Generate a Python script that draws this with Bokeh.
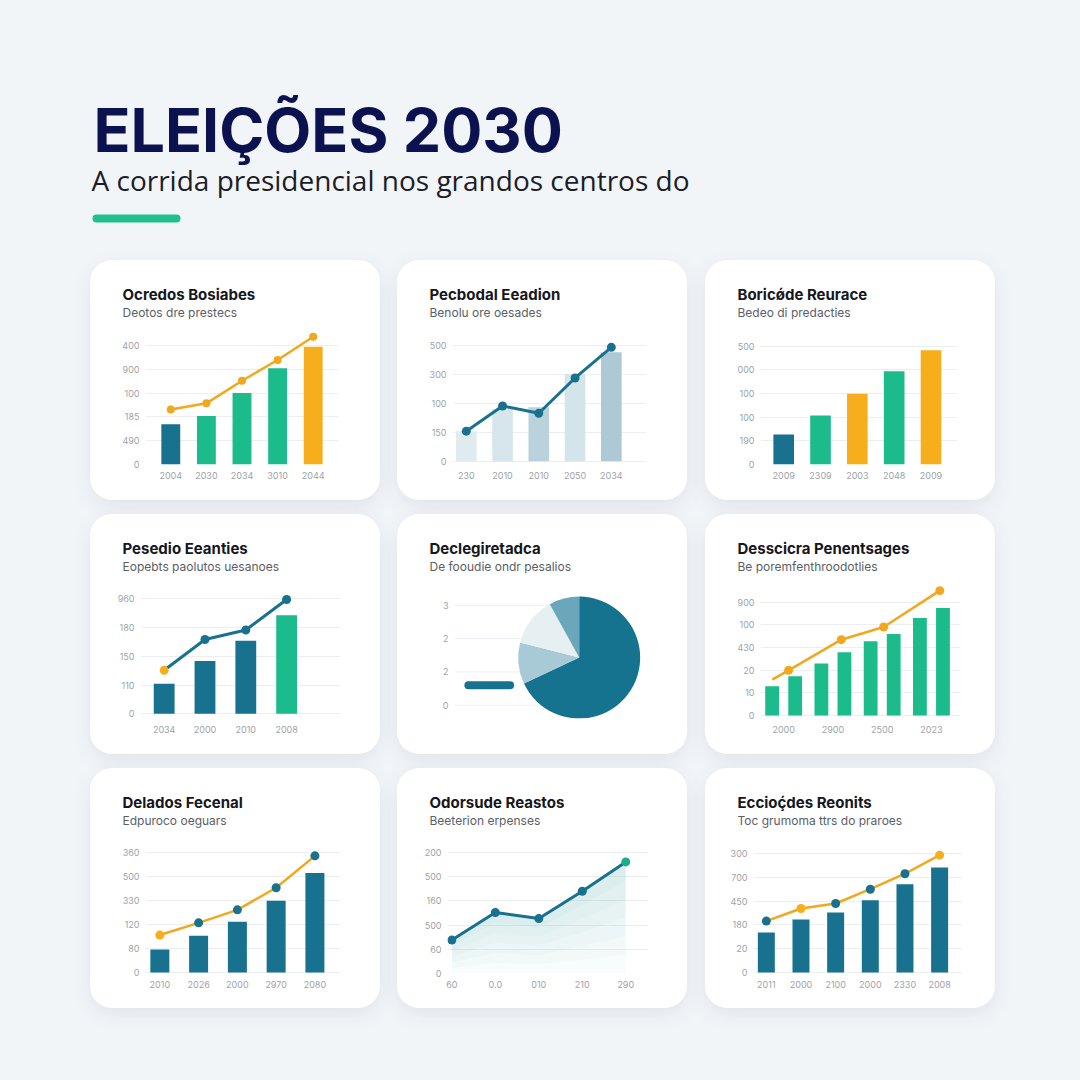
import math
import numpy as np
from bokeh.plotting import figure
from bokeh.layouts import column, row
from bokeh.models import Spacer, FixedTicker, Range1d, Title, GlobalInlineStyleSheet
from bokeh.core.properties import value
from bokeh.embed import file_html
from bokeh.resources import INLINE

# ---------------- data ----------------
header_title = "ELEIÇÕES 2030"
header_subtitle = "A corrida presidencial nos grandos centros do"

p1_title = "Ocredos Bosiabes"
p1_subtitle = "Deotos dre prestecs"
p1_years = ["2004", "2030", "2034", "3010", "2044"]
p1_yticks = ["0", "490", "185", "100", "900", "400"]
p1_bars = [1.69, 2.04, 3.00, 4.04, 4.95]
p1_line = [2.31, 2.57, 3.52, 4.39, 5.37]

p2_title = "Pecbodal Eeadion"
p2_subtitle = "Benolu ore oesades"
p2_years = ["230", "2010", "2010", "2050", "2034"]
p2_yticks = ["0", "150", "100", "300", "500"]
p2_bars = [1.04, 1.81, 1.87, 3.02, 3.77]
p2_line = [1.04, 1.91, 1.66, 2.88, 3.94]

p3_title = "Boricǿde Reurace"
p3_subtitle = "Bedeo di predacties"
p3_years = ["2009", "2309", "2003", "2048", "2009"]
p3_yticks = ["0", "190", "100", "100", "000", "500"]
p3_bars = [1.27, 2.07, 2.99, 3.93, 4.82]

p4_title = "Pesedio Eeanties"
p4_subtitle = "Eopebts paolutos uesanoes"
p4_years = ["2034", "2000", "2010", "2008"]
p4_yticks = ["0", "110", "150", "180", "960"]
p4_bars = [1.04, 1.83, 2.54, 3.42]
p4_line = [1.51, 2.58, 2.91, 3.97]

p5_title = "Declegiretadca"
p5_subtitle = "De fooudie ondr pesalios"
p5_yticks = ["0", "2", "2", "3"]
p5_shares = [68, 11, 13, 8]
p5_bar_x = [0.72, 2.88]
p5_bar_y = [0.6, 0.6]

p6_title = "Desscicra Penentsages"
p6_subtitle = "Be poremfenthroodotlies"
p6_years = ["2000", "2900", "2500", "2023"]
p6_yticks = ["0", "10", "20", "430", "100", "900"]
p6_bars_a = [1.29, 2.29, 3.27, 4.30]
p6_bars_b = [1.73, 2.79, 3.59, 4.74]
p6_line_x = [-0.23, 0.10, 1.17, 2.03, 3.17]
p6_line_y = [1.58, 1.99, 3.34, 3.90, 5.50]

p7_title = "Delados Fecenal"
p7_subtitle = "Edpuroco oeguars"
p7_years = ["2010", "2026", "2000", "2970", "2080"]
p7_yticks = ["0", "80", "120", "330", "500", "360"]
p7_bars = [0.96, 1.53, 2.11, 2.99, 4.15]
p7_line = [1.56, 2.07, 2.61, 3.53, 4.86]

p8_title = "Odorsude Reastos"
p8_subtitle = "Beeterion erpenses"
p8_xlabels = ["60", "0.0", "010", "210", "290"]
p8_yticks = ["0", "60", "500", "160", "500", "200"]
p8_line = [1.38, 2.52, 2.27, 3.40, 4.61]

p9_title = "Eccioḉdes Reonits"
p9_subtitle = "Toc grumoma ttrs do praroes"
p9_years = ["2011", "2000", "2100", "2000", "2330", "2008"]
p9_yticks = ["0", "20", "180", "450", "700", "300"]
p9_bars = [1.68, 2.23, 2.52, 3.04, 3.71, 4.41]
p9_line = [2.16, 2.69, 2.90, 3.50, 4.15, 4.93]

# ---------------- styles ----------------
BG = "#f2f5f8"
NAVY = "#0c1150"
TEAL = "#18718e"
GREEN = "#1bbb8c"
ORANGE = "#f6ae1c"
LINE_ORANGE = "#f1a81c"
GRID = "#eceff2"
TICK = "#9ea3a8"
FONT = "Inter"

CARD_W, CARD_H = 290, 240
FRAME_TOP = 68
CARD_STYLE = {"background-color": "#ffffff", "border-radius": "22px",
              "box-shadow": "0 6px 20px rgba(40, 60, 90, 0.09)"}


def make_card(title, subtitle, ylabels, xr, zero_px, unit_px, left, right,
              xlabels, frame_bottom):
    y_end = (zero_px - FRAME_TOP) / unit_px
    y_start = -(frame_bottom - zero_px) / unit_px
    p = figure(width=CARD_W, height=CARD_H, x_range=Range1d(*xr),
               y_range=Range1d(y_start, y_end), tools="", toolbar_location=None,
               output_backend="svg", min_border_left=left, min_border_right=right,
               min_border_top=FRAME_TOP, min_border_bottom=int(round(CARD_H - frame_bottom)),
               x_axis_location=("below" if xlabels is not None else None),
               border_fill_color=None, background_fill_color=None,
               outline_line_color=None, styles=CARD_STYLE)
    p.xgrid.visible = False
    p.ygrid.grid_line_color = GRID
    p.ygrid.grid_line_width = 1
    p.yaxis.ticker = FixedTicker(ticks=list(range(len(ylabels))))
    p.yaxis.major_label_overrides = {i: s for i, s in enumerate(ylabels)}
    for ax in p.xaxis + p.yaxis:
        ax.axis_line_color = None
        ax.major_tick_line_color = None
        ax.minor_tick_line_color = None
        ax.major_tick_out = 0
        ax.major_tick_in = 0
        ax.minor_tick_out = 0
        ax.major_label_text_font = FONT
        ax.major_label_text_font_size = "9px"
        ax.major_label_text_color = TICK
    p.yaxis.major_label_standoff = 6
    if xlabels is not None:
        p.xaxis.ticker = FixedTicker(ticks=list(range(len(xlabels))))
        p.xaxis.major_label_overrides = {i: s for i, s in enumerate(xlabels)}
        p.xaxis.major_label_standoff = 7
    p.add_layout(Title(text=subtitle, align="left", offset=32 - left, standoff=18,
                       text_font=FONT, text_font_style="normal", text_font_size="12px",
                       text_color="#5a5e66"), "above")
    p.add_layout(Title(text=title, align="left", offset=32 - left, standoff=-20,
                       text_font=FONT, text_font_style="bold", text_font_size="15px",
                       text_color="#15171c"), "above")
    return p


def idx(n):
    return list(range(n))


ROW1_BOTTOM, ROW2_BOTTOM, ROW3_BOTTOM = 204, 204, 205

# ---- panel 1
c1 = make_card(p1_title, p1_subtitle, p1_yticks, (-0.71, 4.71), 204, 23.8, 55, 42, p1_years, ROW1_BOTTOM)
c1.vbar(x=idx(len(p1_bars)), top=p1_bars, width=0.53, fill_color=[TEAL, GREEN, GREEN, GREEN, ORANGE], line_color=None)
c1.line(idx(len(p1_line)), p1_line, line_color=LINE_ORANGE, line_width=2.5, line_join="round")
c1.scatter(idx(len(p1_line)), p1_line, size=8, fill_color=LINE_ORANGE, line_color=None)

# ---- panel 2
c2 = make_card(p2_title, p2_subtitle, p2_yticks, (-0.38, 4.97), 200.7, 28.9, 55, 41, p2_years, ROW1_BOTTOM)
c2.vbar(x=idx(len(p2_bars)), top=p2_bars, width=0.57,
        fill_color=["#e0ebf0", "#d6e6ec", "#b9d2dc", "#d3e4ea", "#adc9d5"], line_color=None)
c2.line(idx(len(p2_line)), p2_line, line_color=TEAL, line_width=3, line_join="round")
c2.scatter(idx(len(p2_line)), p2_line, size=9, fill_color=TEAL, line_color=None)

# ---- panel 3
c3 = make_card(p3_title, p3_subtitle, p3_yticks, (-0.63, 4.72), 204, 23.7, 55, 38, p3_years, ROW1_BOTTOM)
c3.vbar(x=idx(len(p3_bars)), top=p3_bars, width=0.56,
        fill_color=[TEAL, GREEN, ORANGE, GREEN, ORANGE], line_color=None)

# ---- panel 4
c4 = make_card(p4_title, p4_subtitle, p4_yticks, (-0.58, 4.32), 199.3, 28.8, 50, 40, p4_years, ROW2_BOTTOM)
c4.vbar(x=idx(len(p4_bars)), top=p4_bars, width=0.51,
        fill_color=[TEAL, TEAL, TEAL, GREEN], line_color=None)
c4.line(idx(len(p4_line)), p4_line, line_color=TEAL, line_width=3, line_join="round")
c4.scatter(idx(len(p4_line)), p4_line, size=9, fill_color=[ORANGE, TEAL, TEAL, TEAL], line_color=None)

# ---- panel 5 (pie)
c5 = make_card(p5_title, p5_subtitle, p5_yticks, (0, 10), 190.7, 33.3, 57, 40, None, ROW2_BOTTOM)
c5.ygrid.visible = False
pie_cx, pie_cy = 6.46, 1.43
c5.segment(x0=[0] * len(p5_yticks), x1=[pie_cx] * len(p5_yticks),
           y0=idx(len(p5_yticks)), y1=idx(len(p5_yticks)), line_color=GRID, line_width=1)
c5.line(p5_bar_x, p5_bar_y, line_color="#17728f", line_width=8, line_cap="round")
shares = np.array(p5_shares, dtype=float)
cum = np.cumsum(shares) / shares.sum()
prev = np.concatenate([[0.0], cum[:-1]])
starts = list(math.pi / 2 - 2 * math.pi * prev)
ends = list(math.pi / 2 - 2 * math.pi * cum)
c5.wedge(x=[pie_cx] * len(shares), y=[pie_cy] * len(shares), radius=61, radius_units="screen",
         start_angle=starts, end_angle=ends, direction="clock",
         fill_color=["#15738f", "#a8cad7", "#e6f0f3", "#6aa7bb"], line_color=None)

# ---- panel 6
c6 = make_card(p6_title, p6_subtitle, p6_yticks, (-0.47, 3.59), 201, 22.7, 55, 35, p6_years, ROW2_BOTTOM)
off = 0.234
c6.vbar(x=list(np.arange(len(p6_bars_a)) - off), top=p6_bars_a, width=0.28, fill_color=GREEN, line_color=None)
c6.vbar(x=list(np.arange(len(p6_bars_b)) + off), top=p6_bars_b, width=0.28, fill_color=GREEN, line_color=None)
c6.line(p6_line_x, p6_line_y, line_color=LINE_ORANGE, line_width=2.5, line_join="round")
c6.scatter(p6_line_x[1:], p6_line_y[1:], size=9, fill_color=LINE_ORANGE, line_color=None)

# ---- panel 7
c7 = make_card(p7_title, p7_subtitle, p7_yticks, (-0.37, 4.66), 204, 24, 55, 40, p7_years, ROW3_BOTTOM)
c7.vbar(x=idx(len(p7_bars)), top=p7_bars, width=0.49, fill_color=TEAL, line_color=None)
c7.line(idx(len(p7_line)), p7_line, line_color=LINE_ORANGE, line_width=2.5, line_join="round")
c7.scatter(idx(len(p7_line)), p7_line, size=9, fill_color=[ORANGE, TEAL, TEAL, TEAL, TEAL], line_color=None)

# ---- panel 8 (area line)
c8 = make_card(p8_title, p8_subtitle, p8_yticks, (-0.1, 4.5), 205, 24.2, 50, 40, p8_xlabels, ROW3_BOTTOM)
vals = np.array(p8_line)
xs8 = idx(len(p8_line))
for k in range(1, 7):
    c8.varea(x=xs8, y1=list(vals * (1 - k / 6.0)), y2=list(vals), fill_color="#5fb3bd", fill_alpha=0.04)
c8.line(xs8, p8_line, line_color=TEAL, line_width=3, line_join="round")
c8.scatter(xs8, p8_line, size=9, fill_color=[TEAL, TEAL, TEAL, TEAL, "#1aae8a"], line_color=None)

# ---- panel 9
c9 = make_card(p9_title, p9_subtitle, p9_yticks, (-0.37, 5.66), 204, 23.8, 48, 33, p9_years, ROW3_BOTTOM)
c9.vbar(x=idx(len(p9_bars)), top=p9_bars, width=0.49, fill_color=TEAL, line_color=None)
c9.line(idx(len(p9_line)), p9_line, line_color=LINE_ORANGE, line_width=2.5, line_join="round")
c9.scatter(idx(len(p9_line)), p9_line, size=9,
           fill_color=[TEAL, ORANGE, TEAL, TEAL, TEAL, ORANGE], line_color=None)

# ---------------- header ----------------
HEADER_H = 260
h = figure(width=1080, height=HEADER_H, x_range=Range1d(0, 1080), y_range=Range1d(HEADER_H, 0),
           tools="", toolbar_location=None, output_backend="svg", min_border=0,
           x_axis_location=None, y_axis_location=None,
           border_fill_color=None, background_fill_color=None, outline_line_color=None)
h.grid.visible = False
h.text(x=[93], y=[129], text=[header_title], text_font=value(FONT), text_font_style="bold",
       text_font_size="61px", text_color=NAVY, text_baseline="middle")
h.text(x=[91], y=[179], text=[header_subtitle], text_font=value("Open Sans"),
       text_font_size="28px", text_color="#1b1d29", text_baseline="middle")
h.line(x=[96, 176], y=[218, 218], line_width=8, line_color="#1fbf8e", line_cap="round")

r1 = row(Spacer(width=90), c1, Spacer(width=17), c2, Spacer(width=18), c3)
r2 = row(Spacer(width=90), c4, Spacer(width=17), c5, Spacer(width=18), c6)
r3 = row(Spacer(width=90), c7, Spacer(width=17), c8, Spacer(width=18), c9)

layout = column(h, r1, Spacer(height=14), r2, Spacer(height=14), r3,
                stylesheets=[GlobalInlineStyleSheet(css="body { background: %s; margin: 0; }" % BG)])

open("out.html", "w").write(file_html(layout, INLINE))
